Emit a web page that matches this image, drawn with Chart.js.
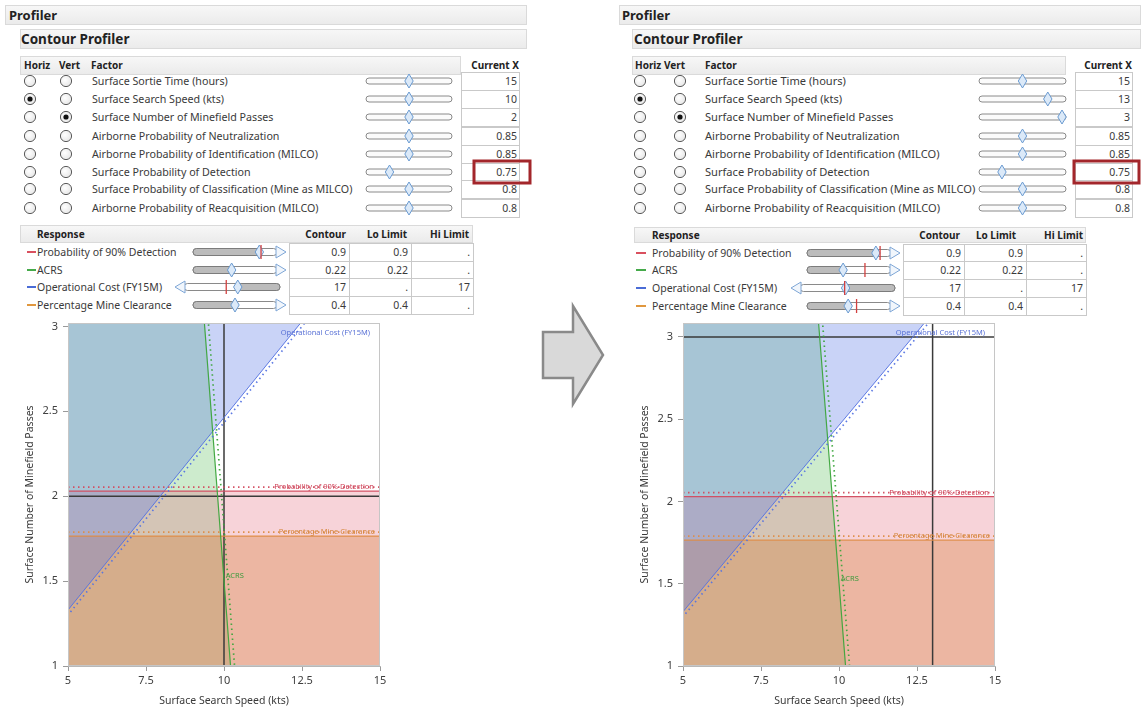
<!DOCTYPE html>
<html>
<head>
<meta charset="utf-8">
<script src="https://cdn.jsdelivr.net/npm/chart.js@4.4.0/dist/chart.umd.min.js"></script>
<style>
    html, body { margin: 0; padding: 0; background: #fff; }
    body { width: 1141px; height: 713px; position: relative; overflow: hidden; font-family: 'Noto Sans', 'Open Sans', sans-serif; color: #333; }
    .txt { position: absolute; white-space: nowrap; z-index: 2; }
    .bar { position: absolute; box-sizing: border-box; background: linear-gradient(#f7f7f7, #ebebeb); border: 1px solid #dadada; z-index: 1; }
    .cell { position: absolute; box-sizing: border-box; border: 1px solid #c9c9c9; background: #fff; z-index: 1; }
    .chartbox { position: absolute; z-index: 3; }
    #deco { position: absolute; left: 0; top: 0; z-index: 4; pointer-events: none; }
</style>
</head>
<body>
<div class="chartbox" id="box0"><canvas id="chart0" width="400" height="413"></canvas></div>
<div class="chartbox" id="box1"><canvas id="chart1" width="400" height="413"></canvas></div>
<script>
/* ============================================
   Contour profiler: before / after
   ============================================ */

// factor table
const factorNames = [
    'Surface Sortie Time (hours)',
    'Surface Search Speed (kts)',
    'Surface Number of Minefield Passes',
    'Airborne Probability of Neutralization',
    'Airborne Probability of Identification (MILCO)',
    'Surface Probability of Detection',
    'Surface Probability of Classification (Mine as MILCO)',
    'Airborne Probability of Reacquisition (MILCO)'
];
const horizFactor = 1;
const vertFactor = 2;
const currentXBefore = ['15', '10', '2', '0.85', '0.85', '0.75', '0.8', '0.8'];
const currentXAfter = ['15', '13', '3', '0.85', '0.85', '0.75', '0.8', '0.8'];
const factorSliderBefore = [0.5, 0.5, 0.5, 0.5, 0.5, 0.25, 0.5, 0.5];
const factorSliderAfter = [0.5, 0.82, 1.0, 0.5, 0.5, 0.24, 0.5, 0.5];

// response table
const responseNames = ['Probability of 90% Detection', 'ACRS', 'Operational Cost (FY15M)', 'Percentage Mine Clearance'];
const responseColors = ['#d9505f', '#45aa4a', '#4a6cd6', '#e0973e'];
const contourValues = ['0.9', '0.22', '17', '0.4'];
const loLimits = ['0.9', '0.22', '.', '0.4'];
const hiLimits = ['.', '.', '17', '.'];
const respSliderBefore = [
    { arrow: 'right', fill: 'left', pos: 0.79, mark: 0.81 },
    { arrow: 'right', fill: 'left', pos: 0.46, mark: null },
    { arrow: 'left', fill: 'right', pos: 0.56, mark: 0.44 },
    { arrow: 'right', fill: 'left', pos: 0.5, mark: null }
];
const respSliderAfter = [
    { arrow: 'right', fill: 'left', pos: 0.82, mark: 0.87 },
    { arrow: 'right', fill: 'left', pos: 0.43, mark: 0.69 },
    { arrow: 'left', fill: 'right', pos: 0.48, mark: 0.47 },
    { arrow: 'right', fill: 'left', pos: 0.49, mark: 0.59 }
];

// contour plot (x = search speed, y = minefield passes)
const speedTicks = [5, 7.5, 10, 12.5, 15];
const speedTickLabels = ['5', '7.5', '10', '12.5', '15'];
const passTicks = [1, 1.5, 2, 2.5, 3];
const passTickLabels = ['1', '1.5', '2', '2.5', '3'];
const acrsContour = [{ x: 9.34, y: 3.1 }, { x: 9.38, y: 3 }, { x: 10.21, y: 1 }];
const costContour = [{ x: 5, y: 1.33 }, { x: 12.5, y: 3.03 }, { x: 12.8, y: 3.1 }];
const detectionLevel = 2.03;
const clearanceLevel = 1.765;
const currentSpeed = [10, 13];
const currentPasses = [2, 3];
const passesAxisMax = [3.02, 3.085];

const FONT = "'Noto Sans', 'Open Sans', sans-serif";
const W = 1141;
const rowY = [81, 99, 117, 136, 154, 172, 189, 208];

const panels = [
    {
        profiler: [5, 5, 527, 25], profilerText: 9,
        contour: [20, 29, 527, 49], contourText: 21,
        head: [20, 56, 461, 75], horizX: 24, vertX: 59, factorX: 91, curRight: 519,
        radioX: [30, 66], nameX: 92, nameSize: 10.7, slider: [366, 452], cell: [461, 520],
        redBox: [474, 161, 530, 183],
        rHead: [20, 225, 473, 243], rNameX: 37, dash: [27, 36],
        rSlider: [193, 286], rSliderLeft: [175, 280],
        rCells: [289, 349, 411, 473], rHeadRight: [346, 407, 469],
        rRows: [252, 270, 287, 305],
        chart: [0, 300]
    },
    {
        profiler: [619, 5, 1141, 25], profilerText: 622,
        contour: [632, 29, 1141, 49], contourText: 634,
        head: [632, 56, 1066, 75], horizX: 635, vertX: 664, factorX: 705, curRight: 1132,
        radioX: [640, 680], nameX: 705, nameSize: 11.1, slider: [979, 1066], cell: [1075, 1133],
        redBox: [1074, 161, 1139, 183],
        rHead: [634, 227, 1086, 243], rNameX: 652, dash: [636, 646],
        rSlider: [807, 900], rSliderLeft: [791, 895],
        rCells: [903, 964, 1026, 1086], rHeadRight: [960, 1016, 1083],
        rRows: [253, 270, 288, 306],
        chart: [615, 300]
    }
];

const svg = [];

function text(str, x, y, o = {}) {
    const d = document.createElement('div');
    const size = o.size || 10;
    const lh = Math.round(size * 1.3);
    d.className = 'txt';
    d.textContent = str;
    d.style.fontSize = size + 'px';
    d.style.lineHeight = lh + 'px';
    d.style.top = (y - lh / 2) + 'px';
    if (o.align === 'right') d.style.right = (W - x) + 'px';
    else d.style.left = x + 'px';
    if (o.bold) d.style.fontWeight = 'bold';
    d.style.color = o.color || '#3a3a3a';
    document.body.appendChild(d);
}

function rectDiv(cls, x0, y0, x1, y1) {
    const d = document.createElement('div');
    d.className = cls;
    d.style.left = x0 + 'px';
    d.style.top = y0 + 'px';
    d.style.width = (x1 - x0) + 'px';
    d.style.height = (y1 - y0) + 'px';
    document.body.appendChild(d);
}

function radio(cx, cy, on) {
    svg.push(`<circle cx="${cx}" cy="${cy}" r="5.6" fill="url(#rg)" stroke="#5a5a5a" stroke-width="1"/>`);
    if (on) svg.push(`<circle cx="${cx}" cy="${cy}" r="2.6" fill="#111"/>`);
}

function diamond(cx, cy, h) {
    svg.push(`<polygon points="${cx},${cy - h} ${cx + h * 0.6},${cy} ${cx},${cy + h} ${cx - h * 0.6},${cy}" fill="#dbe9f8" stroke="#6b9bd1" stroke-width="1"/>`);
}

function factorSlider(x0, x1, cy, pos) {
    svg.push(`<rect x="${x0}" y="${cy - 3}" width="${x1 - x0}" height="6" rx="3" fill="#fbfbfb" stroke="#8a8a8a" stroke-width="1"/>`);
    diamond(x0 + 4 + pos * (x1 - x0 - 8), cy, 7);
}

function respSlider(x0, x1, cy, s) {
    const ah = 9;
    const t0 = s.arrow === 'left' ? x0 + ah : x0;
    const t1 = s.arrow === 'right' ? x1 - ah : x1;
    const px = t0 + s.pos * (t1 - t0);
    svg.push(`<rect x="${t0}" y="${cy - 3.5}" width="${t1 - t0}" height="7" rx="3.5" fill="#fff" stroke="#8a8a8a" stroke-width="1"/>`);
    const f0 = s.fill === 'left' ? t0 : px;
    const f1 = s.fill === 'left' ? px : t1;
    svg.push(`<rect x="${f0}" y="${cy - 3.5}" width="${f1 - f0}" height="7" rx="3.5" fill="#bcbcbc" stroke="#7c7c7c" stroke-width="1"/>`);
    if (s.arrow === 'right') {
        svg.push(`<polygon points="${t1 - 1},${cy - 6} ${x1},${cy} ${t1 - 1},${cy + 6}" fill="#f1f6fc" stroke="#7ea6d6" stroke-width="1"/>`);
    } else {
        svg.push(`<polygon points="${t0 + 1},${cy - 6} ${x0},${cy} ${t0 + 1},${cy + 6}" fill="#f1f6fc" stroke="#7ea6d6" stroke-width="1"/>`);
    }
    diamond(px, cy, 7);
    if (s.mark !== null) {
        const mx = t0 + s.mark * (t1 - t0);
        svg.push(`<line x1="${mx}" y1="${cy - 7}" x2="${mx}" y2="${cy + 7}" stroke="#d2403f" stroke-width="1.3"/>`);
    }
}

function buildPanel(P, currentX, sliderPos, respSliders) {
    rectDiv('bar', ...P.profiler);
    text('Profiler', P.profilerText, (P.profiler[1] + P.profiler[3]) / 2, { size: 13, bold: true, color: '#222' });
    rectDiv('bar', ...P.contour);
    text('Contour Profiler', P.contourText, (P.contour[1] + P.contour[3]) / 2, { size: 13.5, bold: true, color: '#222' });

    // factor header
    rectDiv('bar', ...P.head);
    const hy = (P.head[1] + P.head[3]) / 2;
    text('Horiz', P.horizX, hy, { size: 10, bold: true, color: '#222' });
    text('Vert', P.vertX, hy, { size: 10, bold: true, color: '#222' });
    text('Factor', P.factorX, hy, { size: 10, bold: true, color: '#222' });
    text('Current X', P.curRight, hy, { size: 10, bold: true, color: '#222', align: 'right' });

    factorNames.forEach((name, i) => {
        const cy = rowY[i];
        radio(P.radioX[0], cy, i === horizFactor);
        radio(P.radioX[1], cy, i === vertFactor);
        text(name, P.nameX, cy, { size: P.nameSize });
        factorSlider(P.slider[0], P.slider[1], cy, sliderPos[i]);
        rectDiv('cell', P.cell[0], cy - 9, P.cell[1], cy + 10);
        text(currentX[i], P.cell[1] - 3, cy, { size: 10.5, align: 'right' });
    });
    const rb = P.redBox;
    svg.push(`<rect x="${rb[0]}" y="${rb[1]}" width="${rb[2] - rb[0]}" height="${rb[3] - rb[1]}" fill="none" stroke="#a3262b" stroke-width="3"/>`);

    // response table
    rectDiv('bar', ...P.rHead);
    const ry = (P.rHead[1] + P.rHead[3]) / 2;
    text('Response', P.rNameX, ry, { size: 10, bold: true, color: '#222' });
    ['Contour', 'Lo Limit', 'Hi Limit'].forEach((h, j) => text(h, P.rHeadRight[j], ry, { size: 10, bold: true, color: '#222', align: 'right' }));

    responseNames.forEach((name, i) => {
        const cy = P.rRows[i];
        svg.push(`<line x1="${P.dash[0]}" y1="${cy}" x2="${P.dash[1]}" y2="${cy}" stroke="${responseColors[i]}" stroke-width="2"/>`);
        text(name, P.rNameX, cy, { size: 10.5 });
        const s = respSliders[i];
        const span = s.arrow === 'left' ? P.rSliderLeft : P.rSlider;
        respSlider(span[0], span[1], cy, s);
        const vals = [contourValues[i], loLimits[i], hiLimits[i]];
        for (let j = 0; j < 3; j++) {
            rectDiv('cell', P.rCells[j], cy - 9, P.rCells[j + 1] + 1, cy + 10);
            text(vals[j], P.rCells[j + 1] - 3, cy, { size: 10.5, align: 'right' });
        }
    });
}

buildPanel(panels[0], currentXBefore, factorSliderBefore, respSliderBefore);
buildPanel(panels[1], currentXAfter, factorSliderAfter, respSliderAfter);

// arrow between the two profilers
svg.push('<polygon points="543,332 573,332 573,306 603,355 573,404 573,378 543,378" fill="#d9d9d9" stroke="#8a8a8a" stroke-width="2.5" stroke-linejoin="miter"/>');

const deco = document.createElement('div');
deco.id = 'deco';
deco.innerHTML = `<svg width="1141" height="713" xmlns="http://www.w3.org/2000/svg">
<defs><radialGradient id="rg" cx="0.4" cy="0.4" r="0.7"><stop offset="0" stop-color="#ffffff"/><stop offset="1" stop-color="#e4e4e4"/></radialGradient></defs>
${svg.join('\n')}</svg>`;
document.body.appendChild(deco);

/* ---------- contour charts ---------- */

const plotFrame = {
    id: 'plotFrame',
    afterDraw(chart) {
        const { ctx, chartArea: a } = chart;
        ctx.save();
        ctx.strokeStyle = '#c6c6c6';
        ctx.lineWidth = 1;
        ctx.strokeRect(a.left + 0.5, a.top + 0.5, a.width - 1, a.height - 1);
        ctx.restore();
    }
};

// dotted "side" lines and contour labels, placed with the chart's own scales
const contourMarks = {
    id: 'contourMarks',
    afterDatasetsDraw(chart) {
        const { ctx, chartArea: a } = chart;
        const xs = chart.scales.x, ys = chart.scales.y;
        ctx.save();
        ctx.beginPath();
        ctx.rect(a.left, a.top, a.width, a.height);
        ctx.clip();
        chart.data.datasets.forEach((ds, i) => {
            if (!ds.hatch) return;
            const pts = chart.getDatasetMeta(i).data;
            ctx.strokeStyle = ds.borderColor;
            ctx.lineWidth = 1.7;
            ctx.setLineDash([1.5, 3.5]);
            ctx.beginPath();
            pts.forEach((p, k) => {
                const px = p.x + ds.hatch[0], py = p.y + ds.hatch[1];
                if (k) ctx.lineTo(px, py); else ctx.moveTo(px, py);
            });
            ctx.stroke();
        });
        ctx.setLineDash([]);
        ctx.font = '7.5px ' + FONT;
        ctx.textBaseline = 'middle';
        chart.data.datasets.forEach(ds => {
            const t = ds.tag;
            if (!t) return;
            ctx.fillStyle = t.color;
            if (t.top !== undefined) {
                ctx.textAlign = 'right';
                ctx.fillText(t.text, a.right - t.right, a.top + t.top);
            } else if (t.dy !== undefined) {
                ctx.textAlign = 'right';
                ctx.fillText(t.text, a.right - t.right, ys.getPixelForValue(ds.data[0].y) + t.dy);
            } else {
                // place next to the line at passes = t.at
                const d = ds.data;
                let xv = d[0].x;
                for (let k = 0; k < d.length - 1; k++) {
                    const p = d[k], q = d[k + 1];
                    if ((t.at - p.y) * (t.at - q.y) <= 0) {
                        xv = p.x + (q.x - p.x) * (t.at - p.y) / (q.y - p.y);
                        break;
                    }
                }
                ctx.textAlign = 'left';
                ctx.fillText(t.text, xs.getPixelForValue(xv) + 2, ys.getPixelForValue(t.at));
            }
        });
        ctx.restore();
    }
};

function levelLine(v) {
    return [{ x: speedTicks[0], y: v }, { x: speedTicks[speedTicks.length - 1], y: v }];
}

function area(data, fill, color, order) {
    return { data, fill, backgroundColor: color, borderColor: 'transparent', borderWidth: 0, pointRadius: 0, order, clip: 0 };
}

function edge(data, color, width, hatch, tag) {
    return { data, fill: false, borderColor: color, borderWidth: width, pointRadius: 0, order: 0, clip: 0, hatch, tag };
}

function renderContourChart(k) {
    const ymax = passesAxisMax[k];
    const top = acrsContour[0].y;
    const acrsRegion = [{ x: speedTicks[0], y: top }].concat(acrsContour);

    const P = panels[k];
    const box = document.getElementById('box' + k);
    box.style.left = P.chart[0] + 'px';
    box.style.top = P.chart[1] + 'px';

    new Chart(document.getElementById('chart' + k).getContext('2d'), {
        type: 'line',
        data: {
            datasets: [
                area(acrsRegion, 'start', 'rgba(120, 200, 120, 0.37)', 4),
                area(levelLine(detectionLevel), 'start', 'rgba(230, 110, 130, 0.30)', 3),
                area(levelLine(clearanceLevel), 'start', 'rgba(215, 125, 55, 0.34)', 2),
                area(costContour, 'end', 'rgba(90, 120, 230, 0.33)', 1),
                edge(acrsContour, 'rgba(60, 165, 60, 0.95)', 1.2, [4, 0], { text: 'ACRS', color: '#3d9a3d', at: 1.53 }),
                edge(levelLine(detectionLevel), 'rgba(210, 75, 95, 0.95)', 1.2, [0, -4], { text: 'Probability of 90% Detection', color: '#cf4459', right: 6, dy: -4 }),
                edge(levelLine(clearanceLevel), 'rgba(222, 140, 70, 0.95)', 1.2, [0, -4], { text: 'Percentage Mine Clearance', color: '#d5863c', right: 5, dy: -4 }),
                edge(costContour, 'rgba(85, 115, 225, 0.95)', 1, [2.5, 2], { text: 'Operational Cost (FY15M)', color: '#5b73d6', right: 10, top: 10 }),
                edge([{ x: currentSpeed[k], y: passTicks[0] }, { x: currentSpeed[k], y: ymax }], '#3a3a3a', 1.5),
                edge(levelLine(currentPasses[k]), '#3a3a3a', 1.5)
            ]
        },
        options: {
            responsive: false,
            animation: false,
            events: [],
            layout: { padding: { top: 23, right: 20, left: 0, bottom: 0 } },
            plugins: {
                legend: { display: false },
                tooltip: { enabled: false },
                filler: { drawTime: 'beforeDatasetsDraw' }
            },
            scales: {
                x: {
                    type: 'linear',
                    min: speedTicks[0],
                    max: speedTicks[speedTicks.length - 1],
                    afterBuildTicks: s => { s.ticks = speedTicks.map(v => ({ value: v })); },
                    afterFit: s => { s.height = 47; },
                    ticks: {
                        callback: (v, i) => speedTickLabels[i],
                        color: '#404040', font: { family: FONT, size: 11 },
                        padding: 3, maxRotation: 0, autoSkip: false
                    },
                    grid: { drawOnChartArea: false, drawTicks: true, tickLength: 5, color: '#9a9a9a' },
                    border: { display: true, color: '#b8b8b8' },
                    title: {
                        display: true, text: 'Surface Search Speed (kts)', color: '#3a3a3a',
                        font: { family: FONT, size: 10.5 }, padding: { top: 0, bottom: 6 }
                    }
                },
                y: {
                    type: 'linear',
                    min: passTicks[0],
                    max: ymax,
                    afterBuildTicks: s => { s.ticks = passTicks.map(v => ({ value: v })); },
                    afterFit: s => { s.width = 68; },
                    ticks: {
                        callback: (v, i) => passTickLabels[i],
                        color: '#404040', font: { family: FONT, size: 11 },
                        padding: 5, autoSkip: false
                    },
                    grid: { drawOnChartArea: false, drawTicks: true, tickLength: 5, color: '#9a9a9a' },
                    border: { display: true, color: '#b8b8b8' },
                    title: {
                        display: true, text: 'Surface Number of Minefield Passes', color: '#3a3a3a',
                        font: { family: FONT, size: 10.5 }, padding: { top: 24, bottom: 0 }
                    }
                }
            }
        },
        plugins: [contourMarks, plotFrame]
    });
}

renderContourChart(0);
renderContourChart(1);
</script>
</body>
</html>
